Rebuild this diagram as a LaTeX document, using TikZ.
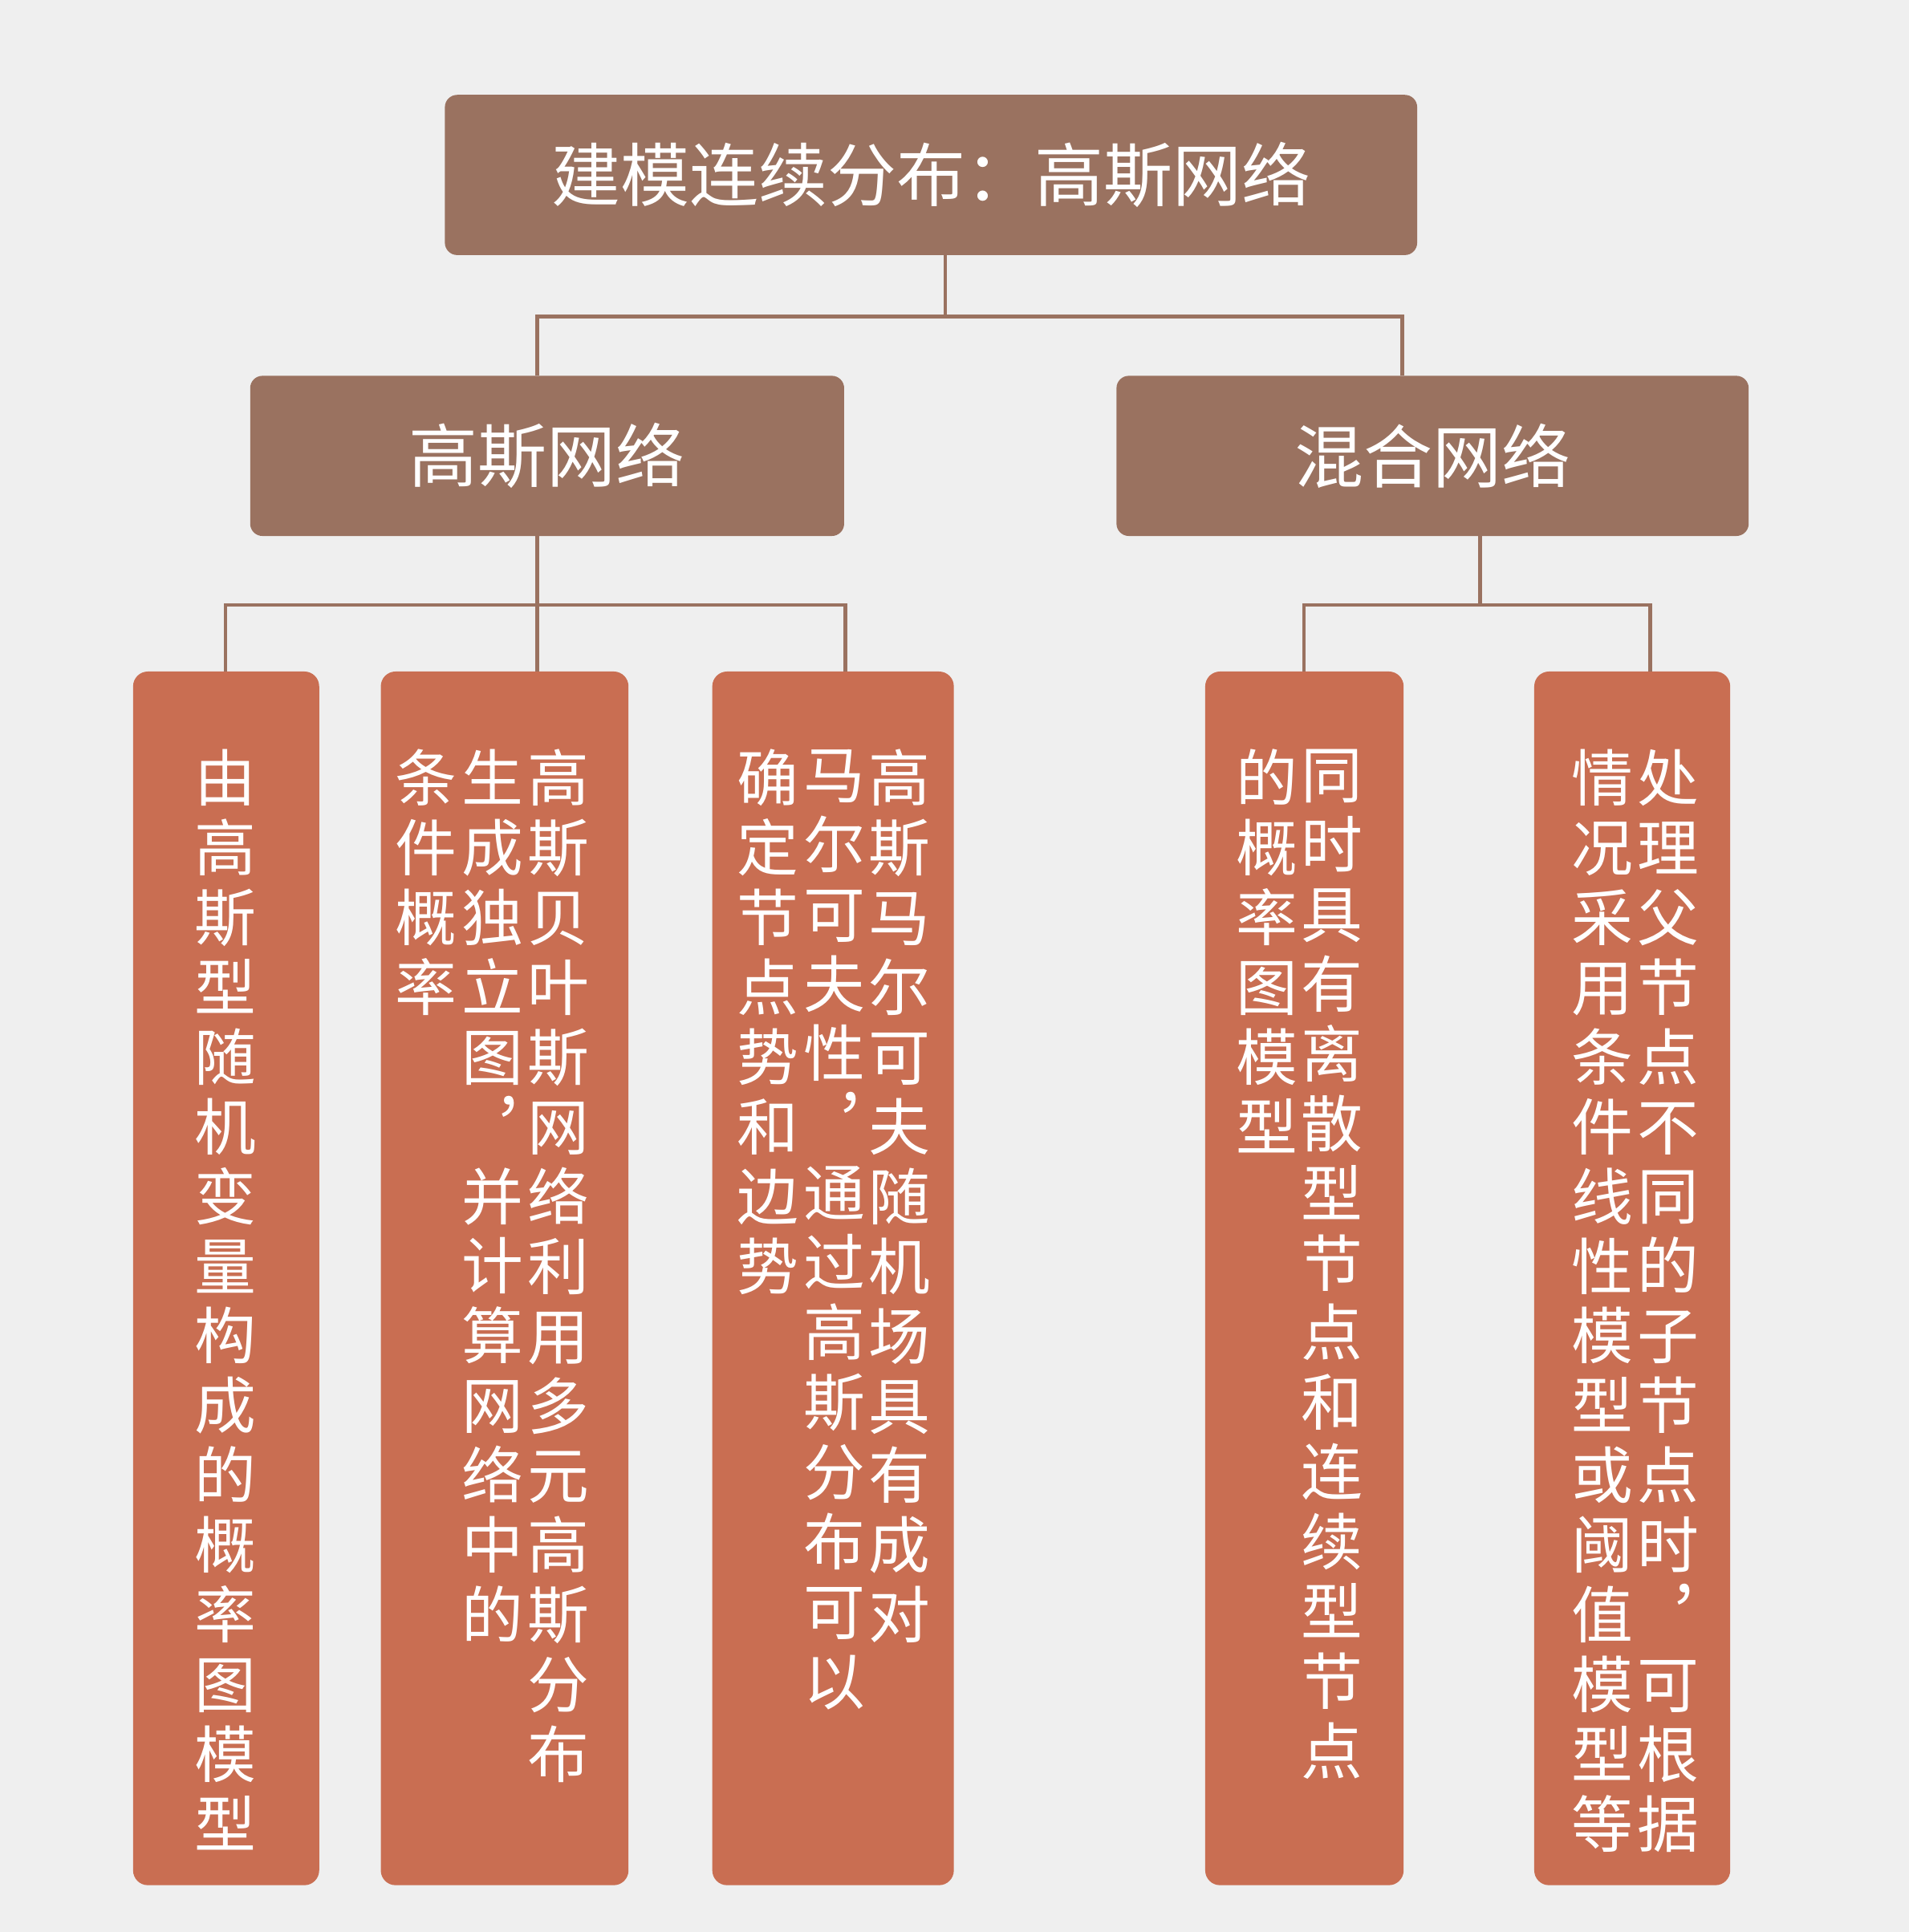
\documentclass[tikz,border=0pt]{standalone}
\usepackage{fontspec}
\setmainfont{Noto Sans CJK SC}
\usepackage{xcolor}
\definecolor{bgGray}{RGB}{239,239,239}
\definecolor{headBrown}{RGB}{154,114,96}
\definecolor{leafRust}{RGB}{201,110,82}
\usepackage{tikz}
\usetikzlibrary{positioning}

\begin{document}
\begin{tikzpicture}[x=1pt, y=-1pt,
  headbox/.style={fill=headBrown, rounded corners=10pt, inner sep=0pt, minimum height=130pt, text=white, font=\fontsize{56}{60}\selectfont},
  leafbox/.style={fill=leafRust, rounded corners=12pt, inner sep=0pt, minimum height=985pt},
  coltext/.style={text=white, anchor=north, inner sep=0pt, align=center, font=\fontsize{50}{56.6}\selectfont},
  link/.style={draw=headBrown, line width=3pt}]
\fill[bgGray] (0,0) rectangle (1549,1568);
\useasboundingbox (0,0) rectangle (1549,1568);

% connectors first, boxes on top
\coordinate (topfork) at (767,257);
\coordinate (gaussfork) at (436,491);
\coordinate (mixfork) at (1201,491);

% top and second level
\node[headbox, minimum width=789pt] (top) at (755.5,142) {建模连续分布：高斯网络};
\node[headbox, minimum width=482pt] (gauss) at (444,370) {高斯网络};
\node[headbox, minimum width=513pt] (mix) at (1162.5,370) {混合网络};

% leaves
\node[leafbox, minimum width=151pt] (leafA) at (183.5,1037.5) {};
\node[leafbox, minimum width=201pt] (leafB) at (409.5,1037.5) {};
\node[leafbox, minimum width=196pt] (leafC) at (676,1037.5) {};
\node[leafbox, minimum width=161pt] (leafD) at (1058.5,1037.5) {};
\node[leafbox, minimum width=159pt] (leafE) at (1324.5,1037.5) {};

\draw[link] (top.south -| topfork) -- (topfork) -| (gauss.north -| 436,0);
\draw[link] (topfork) -| (mix.north -| 1138,0);
\draw[link] (gauss.south -| gaussfork) -- (gaussfork) -| (leafA.north -| 183,0);
\draw[link] (gaussfork) -- (leafB.north -| gaussfork);
\draw[link] (gaussfork) -| (leafC.north -| 686,0);
\draw[link] (mix.south -| mixfork) -- (mixfork) -| (leafD.north -| 1058,0);
\draw[link] (mixfork) -| (leafE.north -| 1339,0);

% vertical text, columns right to left
\node[coltext] (textA) at (183,608) {由\\高\\斯\\型\\随\\机\\变\\量\\构\\成\\的\\概\\率\\图\\模\\型};

\node[coltext] (textBa) at (453,608) {高\\斯\\贝\\叶\\斯\\网\\络\\利\\用\\多\\元\\高\\斯\\分\\布};
\node[coltext] (textBb) at (400,608) {生\\成\\独\\立\\图\\︐\\并\\计\\算\\网\\络\\中\\的};
\node[coltext] (textBc) at (346,608) {条\\件\\概\\率};

\node[coltext] (textCa) at (730,608) {高\\斯\\马\\尔\\可\\夫\\随\\机\\场\\具\\有\\成\\对};
\node[coltext] (textCb) at (677,608) {马\\尔\\可\\夫\\性\\︐\\通\\过\\高\\斯\\分\\布\\可\\以};
\node[coltext] (textCc) at (623,608) {确\\定\\节\\点\\势\\和\\边\\势};

\node[coltext] (textDa) at (1081,608) {同\\时\\具\\有\\离\\散\\型\\节\\点\\和\\连\\续\\型\\节\\点};
\node[coltext] (textDb) at (1028,608) {的\\概\\率\\图\\模\\型};

\node[coltext] (textEa) at (1354,608) {处\\理\\父\\节\\点\\不\\同\\的\\子\\节\\点\\时\\︐\\可\\根\\据};
\node[coltext] (textEb) at (1300,608) {情\\况\\采\\用\\条\\件\\线\\性\\模\\型\\或\\阈\\值\\模\\型\\等};
\end{tikzpicture}
\end{document}
